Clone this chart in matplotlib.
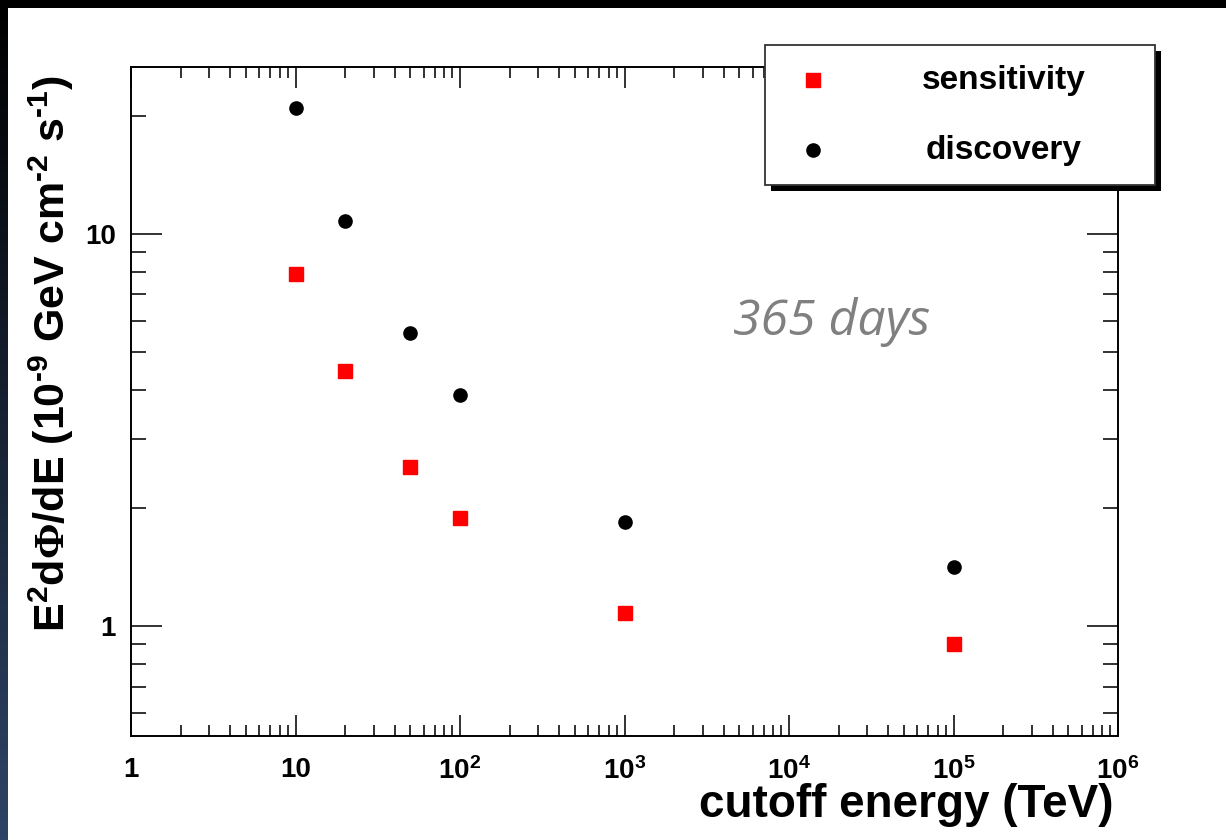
#!/usr/bin/env python3

import numpy as np
import matplotlib
matplotlib.use('Agg')
import matplotlib.pyplot as plt
from matplotlib.patches import Rectangle
from matplotlib.lines import Line2D
from matplotlib.ticker import LogLocator, FixedLocator, FixedFormatter, NullFormatter

# data
cutoff = [10, 20, 50, 100, 1000, 100000]
sensitivity = [7.9, 4.47, 2.54, 1.88, 1.08, 0.90]
discovery = [20.9, 10.8, 5.58, 3.88, 1.84, 1.41]

xticks = [1, 10, 100, 1e3, 1e4, 1e5, 1e6]
xticklabels = ['1', '10', r'$10^{2}$', r'$10^{3}$', r'$10^{4}$', r'$10^{5}$', r'$10^{6}$']
yticks = [1, 10]
yticklabels = ['1', '10']

plt.rcParams['font.family'] = ['Liberation Sans', 'DejaVu Sans']
plt.rcParams['font.weight'] = 'bold'
plt.rcParams['mathtext.fontset'] = 'custom'
plt.rcParams['mathtext.rm'] = 'Liberation Sans:bold'
plt.rcParams['mathtext.bf'] = 'Liberation Sans:bold'
plt.rcParams['mathtext.it'] = 'Liberation Sans:bold'
plt.rcParams['mathtext.sf'] = 'Liberation Serif'

W, H = 1226, 840
fig = plt.figure(figsize=(W / 100, H / 100), dpi=100, facecolor='black')

# white panel and the bluish left strip
fig.patches.append(Rectangle((8 / W, 0), 1, 832 / H, transform=fig.transFigure,
                             facecolor='white', edgecolor='none', zorder=-5))
strip = fig.add_axes([0, 0, 8 / W, 832 / H])
grad = np.linspace(0, 1, 256).reshape(-1, 1)
strip.imshow(grad, aspect='auto', cmap=matplotlib.colors.LinearSegmentedColormap.from_list(
    'g', ['#2e4466', '#000000']), origin='lower')
strip.set_axis_off()

ax = fig.add_axes([131 / W, (H - 736) / H, 987 / W, 669 / H])
ax.set_facecolor('white')

ax.plot(cutoff, discovery, 'o', color='black', markersize=9.5, zorder=3)
ax.plot(cutoff, sensitivity, 's', color='red', markersize=10, zorder=3)

ax.set_xscale('log')
ax.set_yscale('log')
ax.set_xlim(1, 1e6)
ax.set_ylim(0.524, 26.6)

ax.xaxis.set_major_locator(FixedLocator(xticks))
ax.xaxis.set_major_formatter(FixedFormatter(xticklabels))
ax.xaxis.set_minor_locator(LogLocator(base=10, subs=np.arange(2, 10), numticks=20))
ax.xaxis.set_minor_formatter(NullFormatter())
ax.yaxis.set_major_locator(FixedLocator(yticks))
ax.yaxis.set_major_formatter(FixedFormatter(yticklabels))
ax.yaxis.set_minor_locator(LogLocator(base=10, subs=np.arange(2, 10), numticks=20))
ax.yaxis.set_minor_formatter(NullFormatter())

for s in ax.spines.values():
    s.set_linewidth(1.4)
ax.tick_params(which='both', direction='in', top=True, right=True, width=1.3, color='#222222')
ax.tick_params(axis='x', which='major', length=15, labelsize=20, pad=15)
ax.tick_params(axis='x', which='minor', length=8)
ax.tick_params(axis='y', which='major', length=22, labelsize=20, pad=11)
ax.tick_params(axis='y', which='minor', length=11)

ax.set_xlabel('cutoff energy (TeV)', fontsize=33, fontweight='bold', ha='right', va='center')
ax.xaxis.set_label_coords(0.995, -0.103)
ax.set_ylabel('E$^{2}$d$\\mathsf{\\Phi}$/dE (10$^{\u20109}$ GeV cm$^{\u20102}$ s$^{\u20101}$)',
              fontsize=31, fontweight='bold')
ax.yaxis.set_label_coords(-0.056, 0.572)

ax.text(733 / W, (H - 322) / H, '365 days', transform=fig.transFigure, fontsize=36,
        family='Open Sans', style='italic', weight='normal', color='#808080',
        ha='left', va='center')

# legend box with shadow
lx, ly, lw, lh = 765, 45, 390, 140
fig.patches.append(Rectangle(((lx + 6) / W, (H - ly - lh - 6) / H), lw / W, lh / H,
                             transform=fig.transFigure, facecolor='black',
                             edgecolor='none', zorder=5))
fig.patches.append(Rectangle((lx / W, (H - ly - lh) / H), lw / W, lh / H,
                             transform=fig.transFigure, facecolor='white',
                             edgecolor='#333333', linewidth=1.3, zorder=6))
fig.lines.append(Line2D([813 / W], [(H - 80) / H], transform=fig.transFigure, marker='s',
                        color='red', markersize=10, linestyle='none', zorder=7))
fig.lines.append(Line2D([813 / W], [(H - 150) / H], transform=fig.transFigure, marker='o',
                        color='black', markersize=9.5, linestyle='none', zorder=7))
fig.text(1004 / W, (H - 80) / H, 'sensitivity', fontsize=24, fontweight='bold',
         ha='center', va='center', zorder=8)
fig.text(1004 / W, (H - 150) / H, 'discovery', fontsize=24, fontweight='bold',
         ha='center', va='center', zorder=8)

plt.savefig('out.png', dpi=100, facecolor='black')
